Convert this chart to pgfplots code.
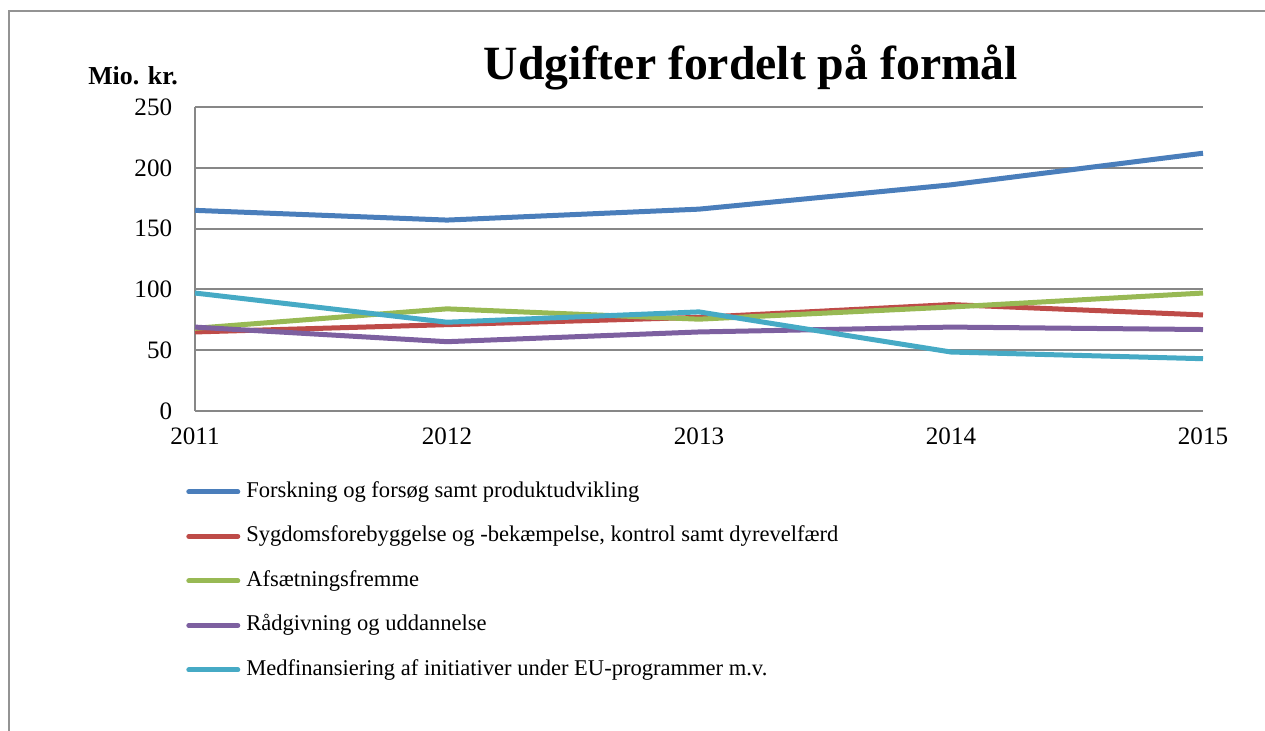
\documentclass[border=0pt]{standalone}
\usepackage{fontspec}
\setmainfont{Liberation Serif}
\usepackage{pgfplots}
\pgfplotsset{compat=1.18}
\definecolor{cblue}{HTML}{4A7EBB}
\definecolor{cred}{HTML}{BE4B48}
\definecolor{cgreen}{HTML}{98B954}
\definecolor{cpurple}{HTML}{7D60A0}
\definecolor{ccyan}{HTML}{46AAC5}
\definecolor{gridgray}{HTML}{878787}
\begin{document}
\begin{tikzpicture}
\useasboundingbox (0pt,0pt) rectangle (948.75pt,548.25pt);
\draw[gridgray!90, line width=1.5pt] (6.75pt,0pt) -- (6.75pt,540pt) -- (948.75pt,540pt);
\node[anchor=base, font=\fontsize{35.8}{40}\selectfont\bfseries] at (563.25pt,488.25pt) {Udgifter fordelt på formål};
\node[anchor=base west, inner sep=0pt, font=\fontsize{19.4}{22}\selectfont\bfseries] at (66pt,484.5pt) {Mio. kr.};
\begin{axis}[
  at={(146.25pt,240pt)}, anchor=south west,
  scale only axis, width=756pt, height=228pt,
  xmin=2011, xmax=2015, ymin=0, ymax=250,
  xtick={2011,2012,2013,2014,2015},
  ytick={0,50,100,150,200,250},
  axis lines=left,
  axis line style={-, gridgray, line width=1.5pt},
  major tick length=0pt,
  ymajorgrids, grid style={gridgray, line width=1.5pt},
  clip=false,
  /pgf/number format/assume math mode=true,
  /pgf/number format/1000 sep={},
  tick label style={font=\fontsize{18.8}{22}\selectfont},
  yticklabel style={anchor=east, inner sep=0pt, xshift=-17pt},
  xticklabel style={anchor=north, inner sep=0pt, yshift=-12.75pt},
  legend cell align=left,
  legend style={draw=none, fill=none, at={(-0.0089,-0.23)}, anchor=north west,
    inner sep=0pt, row sep=17.4pt, column sep=4.5pt,
    nodes={inner sep=0pt, text height=12pt, text depth=4pt},
    font=\fontsize{16.9}{20}\selectfont},
  legend image code/.code={\draw[#1, line cap=round] (0pt,0pt) -- (36.75pt,0pt);},
  every axis plot/.append style={line width=3.75pt, line join=round},
]
\addplot[cblue] coordinates {(2011,165) (2012,157) (2013,166) (2014,186) (2015,212)};
\addlegendentry{Forskning og forsøg samt produktudvikling}
\addplot[cred] coordinates {(2011,65) (2012,71) (2013,77) (2014,87.5) (2015,79)};
\addlegendentry{Sygdomsforebyggelse og -bekæmpelse, kontrol samt dyrevelfærd}
\addplot[cgreen] coordinates {(2011,68) (2012,84) (2013,75.5) (2014,85.5) (2015,97)};
\addlegendentry{Afsætningsfremme}
\addplot[cpurple] coordinates {(2011,69) (2012,57) (2013,65) (2014,69) (2015,67)};
\addlegendentry{Rådgivning og uddannelse}
\addplot[ccyan] coordinates {(2011,97) (2012,73) (2013,81.5) (2014,48.5) (2015,43)};
\addlegendentry{Medfinansiering af initiativer under EU-programmer m.v.}
\end{axis}
\end{tikzpicture}
\end{document}
